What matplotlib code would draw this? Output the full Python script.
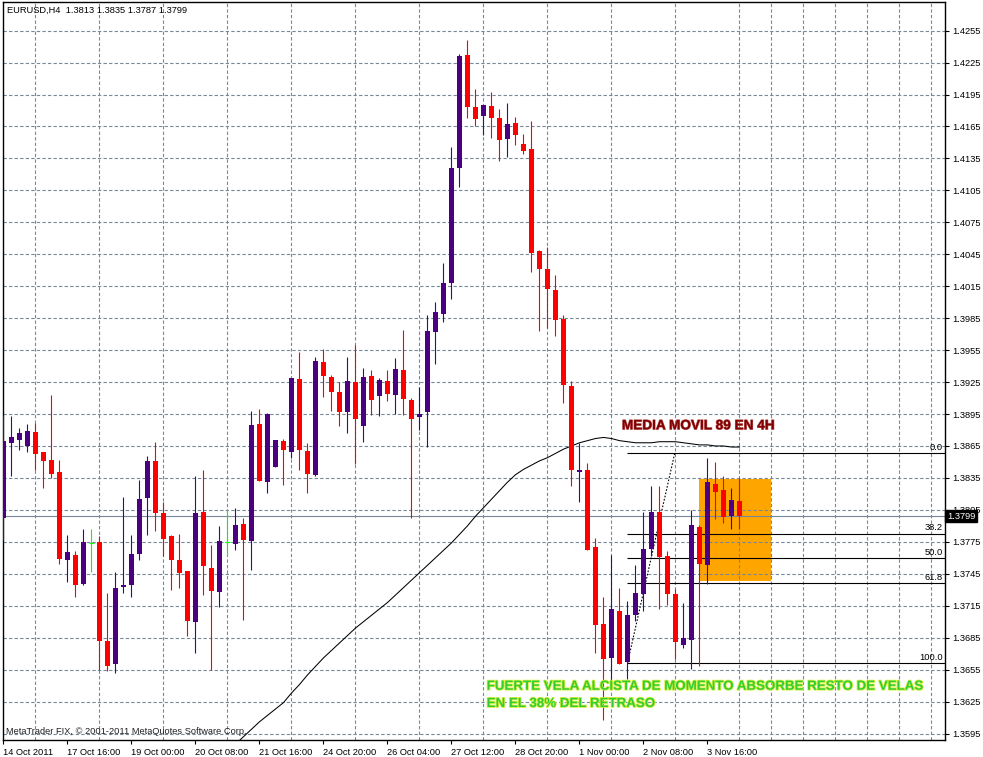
import numpy as np
import matplotlib.pyplot as plt
import matplotlib.patheffects as pe
from matplotlib.patches import Rectangle

plt.rcParams['font.family'] = ['Liberation Sans', 'DejaVu Sans']
plt.rcParams['font.size'] = 6.7

opens = [1.3797, 1.3868, 1.3871, 1.3865, 1.3878, 1.3859, 1.3852, 1.3841, 1.3758, 1.3763,
         1.3735, 1.3774, 1.3775, 1.3682, 1.3660, 1.3733, 1.3734, 1.3764, 1.3816, 1.3851,
         1.3802, 1.3780, 1.3758, 1.3748, 1.3700, 1.3803, 1.3750, 1.3728, 1.3775, 1.3773,
         1.3792, 1.3776, 1.3886, 1.3831, 1.3845, 1.3870, 1.3859, 1.3928, 1.3860, 1.3838,
         1.3944, 1.3930, 1.3916, 1.3897, 1.3925, 1.3884, 1.3931, 1.3912, 1.3926, 1.3913,
         1.3936, 1.3908, 1.3892, 1.3897, 1.3972, 1.3989, 1.4018, 1.4126, 1.4232, 1.4183,
         1.4175, 1.4184, 1.4173, 1.4153, 1.4168, 1.4149, 1.4144, 1.4048, 1.4031, 1.4011,
         1.3984, 1.3921, 1.3841, 1.3842, 1.3770, 1.3698, 1.3666, 1.3710, 1.3662, 1.3706,
         1.3726, 1.3768, 1.3803, 1.3762, 1.3726, 1.3678, 1.3683, 1.3789, 1.3753, 1.3829,
         1.3824, 1.3799, 1.3813]
highs = [1.3893, 1.3893, 1.3882, 1.3886, 1.3887, 1.3859, 1.3913, 1.3852, 1.3781, 1.3766,
         1.3787, 1.3787, 1.3780, 1.3727, 1.3747, 1.3817, 1.3781, 1.3833, 1.3856, 1.3869,
         1.3812, 1.3781, 1.3782, 1.3748, 1.3837, 1.3842, 1.3772, 1.3790, 1.3805, 1.3807,
         1.3797, 1.3898, 1.3900, 1.3896, 1.3871, 1.3872, 1.3929, 1.3953, 1.3868, 1.3949,
         1.3956, 1.3932, 1.3925, 1.3949, 1.3960, 1.3938, 1.3936, 1.3929, 1.3936, 1.3948,
         1.3974, 1.3910, 1.3920, 1.3988, 1.4000, 1.4037, 1.4146, 1.4233, 1.4246, 1.4200,
         1.4185, 1.4197, 1.4181, 1.4187, 1.4174, 1.4158, 1.4170, 1.4049, 1.4052, 1.4026,
         1.3988, 1.3926, 1.3868, 1.3849, 1.3779, 1.3723, 1.3763, 1.3732, 1.3719, 1.3753,
         1.3803, 1.3827, 1.3827, 1.3766, 1.3731, 1.3718, 1.3805, 1.3791, 1.3854, 1.3850,
         1.3837, 1.3826, 1.3835]
lows = [1.3777, 1.3837, 1.3861, 1.3859, 1.3842, 1.3826, 1.3835, 1.3754, 1.3737, 1.3723,
        1.3734, 1.3747, 1.3655, 1.3654, 1.3652, 1.3727, 1.3723, 1.3758, 1.3781, 1.3785,
        1.3762, 1.3730, 1.3732, 1.3687, 1.3671, 1.3725, 1.3655, 1.3714, 1.3762, 1.3767,
        1.3702, 1.3749, 1.3832, 1.3821, 1.3845, 1.3828, 1.3854, 1.3842, 1.3821, 1.3837,
        1.3911, 1.3898, 1.3884, 1.3877, 1.3848, 1.3869, 1.3894, 1.3893, 1.3907, 1.3895,
        1.3894, 1.3797, 1.3880, 1.3864, 1.3942, 1.3981, 1.4003, 1.4108, 1.4173, 1.4165,
        1.4157, 1.4154, 1.4133, 1.4136, 1.4148, 1.4139, 1.4028, 1.3973, 1.3976, 1.3968,
        1.3905, 1.3827, 1.3812, 1.3767, 1.3671, 1.3608, 1.3642, 1.3660, 1.3646, 1.3701,
        1.3710, 1.3762, 1.3712, 1.3716, 1.3665, 1.3675, 1.3656, 1.3658, 1.3735, 1.3796,
        1.3793, 1.3787, 1.3787]
closes = [1.3870, 1.3873, 1.3877, 1.3879, 1.3857, 1.3851, 1.3839, 1.3759, 1.3765, 1.3734,
          1.3775, 1.3774, 1.3682, 1.3658, 1.3732, 1.3734, 1.3764, 1.3815, 1.3851, 1.3802,
          1.3778, 1.3758, 1.3746, 1.3701, 1.3802, 1.3752, 1.3729, 1.3776, 1.3775, 1.3791,
          1.3777, 1.3885, 1.3832, 1.3895, 1.3871, 1.3861, 1.3929, 1.3861, 1.3839, 1.3945,
          1.3931, 1.3916, 1.3897, 1.3926, 1.3890, 1.3930, 1.3908, 1.3927, 1.3914, 1.3937,
          1.3909, 1.3890, 1.3895, 1.3973, 1.3991, 1.4018, 1.4126, 1.4231, 1.4183, 1.4172,
          1.4185, 1.4173, 1.4152, 1.4167, 1.4157, 1.4142, 1.4046, 1.4031, 1.4012, 1.3983,
          1.3922, 1.3842, 1.3842, 1.3767, 1.3697, 1.3665, 1.3712, 1.3660, 1.3706, 1.3727,
          1.3768, 1.3803, 1.3761, 1.3726, 1.3681, 1.3685, 1.3791, 1.3754, 1.3831, 1.3822,
          1.3798, 1.3814, 1.3799]

# media movil 89 (solo la parte visible, desde la vela 28)
ma_start = 28
ma89 = [1.3578, 1.3585, 1.3592, 1.3599, 1.3606, 1.3612, 1.3618, 1.3624, 1.3633, 1.3641,
        1.3650, 1.3658, 1.3666, 1.3673, 1.3680, 1.3687, 1.3694, 1.3700, 1.3706, 1.3712,
        1.3718, 1.3725, 1.3732, 1.3739, 1.3746, 1.3753, 1.3760, 1.3767, 1.3774, 1.3782,
        1.3790, 1.3799, 1.3807, 1.3815, 1.3823, 1.3831, 1.3838, 1.3843, 1.3847, 1.3851,
        1.3854, 1.3858, 1.3862, 1.3865, 1.3868, 1.3870, 1.3872, 1.3873, 1.3872, 1.3870,
        1.3869, 1.3868, 1.3868, 1.3868, 1.3869, 1.3869, 1.3869, 1.3868, 1.3867, 1.3866,
        1.3866, 1.3865, 1.3865, 1.3864, 1.3864]

date_labels = ["14 Oct 2011", "17 Oct 16:00", "19 Oct 00:00", "20 Oct 08:00",
               "21 Oct 16:00", "24 Oct 20:00", "26 Oct 04:00", "27 Oct 12:00",
               "28 Oct 20:00", "1 Nov 00:00", "2 Nov 08:00", "3 Nov 16:00"]

# fibonacci
fib_high = 1.3858
fib_low = 1.3661
fib_levels = [0.0, 38.2, 50.0, 61.8, 100.0]
fib_start = 78
fib_top_x = 83.9

# zona naranja
box_x0, box_x1 = 87, 96
box_y0, box_y1 = 1.37382, 1.3834

last_price = 1.3799

BULL = '#4B0082'
BEAR = '#FF0000'
DOJI = '#00FF00'
GRID = '#778899'

W, H = 983, 757
fig = plt.figure(figsize=(W / 100, H / 100), dpi=100)
ax = fig.add_axes([3 / W, 17 / H, 942 / W, 738 / H])

o = np.array(opens)
h = np.array(highs)
l = np.array(lows)
c = np.array(closes)
idx = np.arange(len(o))

bull = c > o
bear = c < o
doji = c == o
bw = 0.6

ax.vlines(idx[bull], l[bull], h[bull], color=BULL, lw=0.8, zorder=3)
ax.bar(idx[bull], np.maximum(c - o, 0.00008)[bull], bottom=o[bull], width=bw,
       color=BULL, linewidth=0, zorder=3)
ax.vlines(idx[bear], l[bear], h[bear], color=BEAR, lw=0.8, zorder=3)
ax.bar(idx[bear], (c - o)[bear], bottom=o[bear], width=bw,
       color=BEAR, linewidth=0, zorder=3)
ax.vlines(idx[doji], l[doji], h[doji], color=DOJI, lw=0.8, zorder=3)
ax.hlines(o[doji], idx[doji] - bw / 2, idx[doji] + bw / 2, color=DOJI, lw=0.8, zorder=3)

# MA 89
ma_x = np.arange(ma_start, ma_start + len(ma89))
ax.plot(ma_x, ma89, color='black', lw=0.75, zorder=2.5)

xmin, xmax = -0.0625, 117.69
ymin, ymax = 1.35889, 1.42819

# orange box
ax.add_patch(Rectangle((box_x0, box_y0), box_x1 - box_x0, box_y1 - box_y0,
                       facecolor='#FFA500', edgecolor='none', zorder=0.3))

# current price line
ax.axhline(last_price, color=GRID, lw=0.8, zorder=1)

# fibo retracement
for lev in fib_levels:
    p = fib_high - (fib_high - fib_low) * lev / 100
    ax.hlines(p, fib_start, xmax, color='black', lw=0.8, zorder=2)
    ax.text(xmax - 0.3, p + 0.00012, f"{lev:.1f}", ha='right', va='bottom',
            fontsize=6.7, color='black', zorder=4)
ax.plot([fib_start, fib_top_x], [fib_low, fib_high], color='black', lw=0.8,
        linestyle=(0, (1.5, 1.5)), zorder=2)

# annotations
ax.text(77.3, 1.38844, "MEDIA MOVIL 89 EN 4H", color='#800000', fontsize=9.8,
        fontweight='bold', ha='left', va='center', zorder=4,
        path_effects=[pe.withStroke(linewidth=0.8, foreground='#C06060')])
green_fx = [pe.withStroke(linewidth=1.2, foreground='#D8F040')]
ax.text(60.4, 1.36389, "FUERTE VELA ALCISTA DE MOMENTO ABSORBE RESTO DE VELAS",
        color='#33CC33', fontsize=9.6, fontweight='bold', ha='left', va='center',
        zorder=4, path_effects=green_fx)
ax.text(60.4, 1.36227, "EN EL 38% DEL RETRASO", color='#33CC33', fontsize=9.6,
        fontweight='bold', ha='left', va='center', zorder=4, path_effects=green_fx)

# axes
ax.set_xlim(xmin, xmax)
ax.set_ylim(ymin, ymax)

ax.set_xticks(np.arange(0, 8 * len(date_labels), 8))
ax.set_xticklabels(date_labels, ha='left')
ax.set_xticks(np.arange(4, xmax, 4), minor=True)
yt = np.arange(1.3595, 1.4256, 0.003)
ax.set_yticks(yt)
ax.set_yticklabels([f"{v:.4f}" for v in yt])
ax.yaxis.tick_right()

ax.tick_params(axis='x', which='major', length=3, width=0.8, pad=3, labelsize=6.7)
ax.tick_params(axis='x', which='minor', length=0)
ax.tick_params(axis='y', length=3, width=0.8, pad=2, labelsize=6.7)

ax.set_axisbelow(True)
ax.grid(False)
ax.xaxis.grid(True, which='minor', color=GRID, lw=0.8, linestyle=(0, (3, 2)))
ax.yaxis.grid(True, which='major', color=GRID, lw=0.8, linestyle=(0, (3, 2)))
for s in ax.spines.values():
    s.set_color('black')
    s.set_linewidth(1.0)

# price label box
ax.text(xmax + 0.25, last_price, f"{last_price:.4f}", color='white', fontsize=6.7,
        ha='left', va='center', zorder=6, clip_on=False,
        bbox=dict(boxstyle='square,pad=0.18', facecolor='black', edgecolor='black'))

fig.text(7 / W, 1 - 10.3 / H, "EURUSD,H4  1.3813 1.3835 1.3787 1.3799",
         ha='left', va='center', fontsize=6.7, color='black')
fig.text(6 / W, 1 - 731.7 / H, "MetaTrader FIX, \u00a9 2001-2011 MetaQuotes Software Corp.",
         ha='left', va='center', fontsize=6.7, color='#202020')

fig.savefig("out.png", dpi=100, facecolor='white')
